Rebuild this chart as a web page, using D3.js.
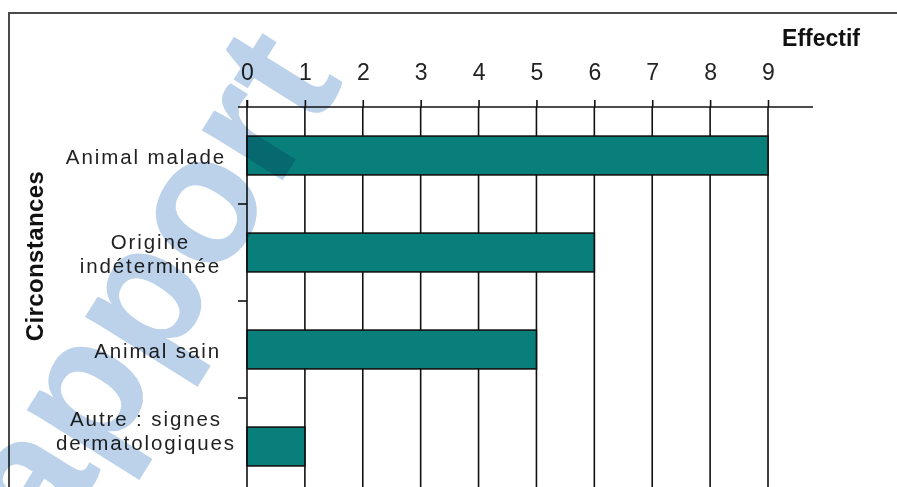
<!DOCTYPE html>
<html>
<head>
<meta charset="utf-8">
<script src="https://cdn.jsdelivr.net/npm/d3@7"></script>
<style>
  html, body { margin: 0; padding: 0; background: #fff; overflow: hidden; }
  svg { display: block; }
</style>
</head>
<body>
<svg id="chart" width="897" height="487"></svg>
<script>
// ---- data ----
const categories = ["Animal malade", "Origine indéterminée", "Animal sain", "Autre : signes dermatologiques"];
const categoryLines = [["Animal malade"], ["Origine", "indéterminée"], ["Animal sain"], ["Autre : signes", "dermatologiques"]];
const values = [9, 6, 5, 1];
const xTicks = [0, 1, 2, 3, 4, 5, 6, 7, 8, 9];
const xTitle = "Effectif";
const yTitle = "Circonstances";
const watermark = "Rapport";

// ---- layout ----
const svg = d3.select("#chart");
const plotLeft = 247, plotRight9 = 768, plotTop = 107, plotBottom = 495;
const labelFont = "'Liberation Sans', Arial, sans-serif";

const x = d3.scaleLinear().domain([0, 9]).range([plotLeft, plotRight9]);
const y = d3.scaleBand().domain(categories).range([plotTop, plotBottom]).paddingInner(0.6).paddingOuter(0.3);

// outer frame (cut off on right and bottom)
svg.append("rect").attr("x", 9).attr("y", 13).attr("width", 1000).attr("height", 1000)
  .attr("fill", "none").attr("stroke", "#4a4a4a").attr("stroke-width", 2);

// vertical gridlines
svg.append("g").selectAll("line").data(xTicks.filter(d => d > 0)).join("line")
  .attr("x1", d => x(d)).attr("x2", d => x(d))
  .attr("y1", plotTop).attr("y2", plotBottom)
  .attr("stroke", "#111").attr("stroke-width", 1.6);

// bars
svg.append("g").selectAll("rect").data(values).join("rect")
  .attr("x", x(0))
  .attr("y", (d, i) => y(categories[i]))
  .attr("width", d => x(d) - x(0))
  .attr("height", y.bandwidth())
  .attr("fill", "#087f7a")
  .attr("stroke", "#111").attr("stroke-width", 1.6);

// top axis
const xAxis = d3.axisTop(x).tickValues(xTicks).tickSize(7).tickPadding(20).tickFormat(d3.format("d"));
const gx = svg.append("g").attr("transform", `translate(0,${plotTop})`).call(xAxis);
gx.select(".domain").remove();
gx.selectAll(".tick line").attr("stroke", "#111").attr("stroke-width", 1.6);
gx.selectAll(".tick text").attr("font-family", labelFont).attr("font-size", 23).attr("fill", "#222")
  .attr("y", -27);
// axis baseline, extending past last tick
svg.append("line").attr("x1", x(0) - 9).attr("x2", x(9) + 45)
  .attr("y1", plotTop).attr("y2", plotTop).attr("stroke", "#111").attr("stroke-width", 1.6);

// left axis (band boundaries as ticks)
const step = y.step();
const boundaries = categories.slice(1).map(c => y(c) - y.paddingInner() * step / 2);
svg.append("line").attr("x1", x(0)).attr("x2", x(0)).attr("y1", plotTop - 7).attr("y2", plotBottom)
  .attr("stroke", "#111").attr("stroke-width", 1.6);
svg.append("g").selectAll("line").data(boundaries).join("line")
  .attr("x1", x(0) - 9).attr("x2", x(0)).attr("y1", d => d).attr("y2", d => d)
  .attr("stroke", "#111").attr("stroke-width", 1.6);

// category labels
const labelRight = 221, labelMinCenter = 146, lineH = 24, lastBaselineMax = 450;
categories.forEach((c, i) => {
  const lines = categoryLines[i];
  const g = svg.append("g");
  const center = y(c) + y.bandwidth() / 2;
  let first = center - (lines.length - 1) * lineH / 2 + 8.5;
  const last = first + (lines.length - 1) * lineH;
  if (last > lastBaselineMax) first -= (last - lastBaselineMax);
  const texts = lines.map((t, j) => g.append("text")
    .attr("font-family", labelFont).attr("font-size", 20.5).attr("letter-spacing", 1.9)
    .attr("fill", "#222").attr("text-anchor", "middle")
    .attr("y", first + j * lineH).text(t));
  const w = d3.max(texts, t => t.node().getComputedTextLength());
  const cx = Math.max(labelRight - w / 2, labelMinCenter);
  texts.forEach(t => t.attr("x", cx));
});

// axis titles
svg.append("text").attr("x", 860).attr("y", 46).attr("text-anchor", "end")
  .attr("font-family", labelFont).attr("font-weight", "bold").attr("font-size", 23)
  .attr("fill", "#111").text(xTitle);
svg.append("text").attr("transform", "translate(43,256) rotate(-90)").attr("text-anchor", "middle")
  .attr("font-family", labelFont).attr("font-weight", "bold").attr("font-size", 24).attr("letter-spacing", 0.4)
  .attr("fill", "#111").text(yTitle);

// watermark
const fs = 180;
svg.append("g").attr("transform", "translate(207,213) rotate(-58)")
  .append("text").attr("x", -2.805 * fs).attr("y", 0.26 * fs)
  .attr("font-family", labelFont).attr("font-weight", "bold").attr("font-size", fs)
  .attr("fill", "#bcd2ea").style("mix-blend-mode", "multiply")
  .text(watermark);
</script>
</body>
</html>
